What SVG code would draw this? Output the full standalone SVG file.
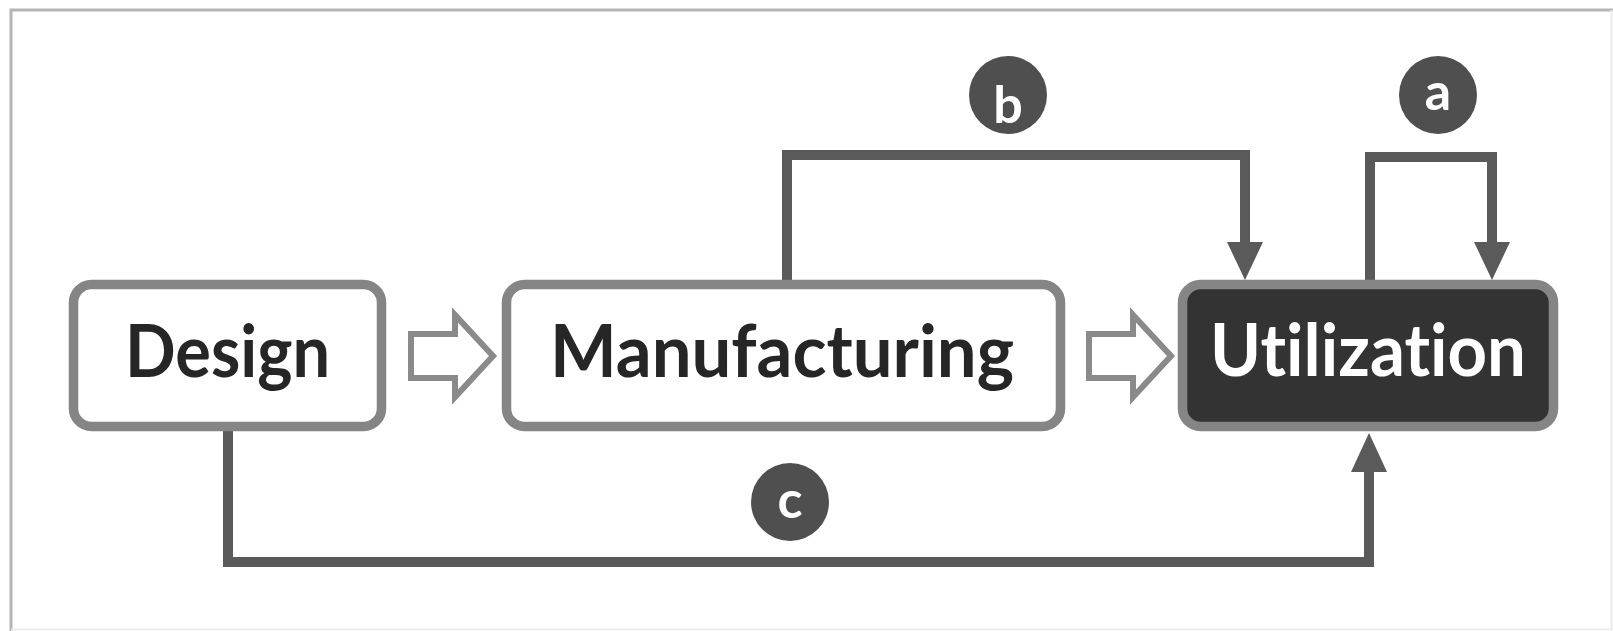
<svg xmlns="http://www.w3.org/2000/svg" width="1613" height="631" viewBox="0 0 1613 631">
<style>
.box{stroke:#858585;stroke-width:9.5;}
.lbl{font-family:Lato,"Open Sans","Liberation Sans",sans-serif;font-weight:700;font-size:72px;font-variant-ligatures:none;font-feature-settings:"liga" 0,"clig" 0;}
.conn{fill:none;stroke:#5a5a5a;stroke-width:10;}
.head{fill:#5a5a5a;}
.badge{fill:#4f4f4f;}
.btxt{font-family:Lato,"Open Sans","Liberation Sans",sans-serif;font-weight:700;font-size:52px;fill:#ffffff;text-anchor:middle;}
.flow{fill:#ffffff;stroke:#8a8a8a;stroke-width:6;stroke-linejoin:miter;}
</style>
<rect width="1613" height="631" fill="#ffffff"/>
<g id="frame">
<path d="M11,631 V10 H1613" fill="none" stroke="#b5b5b5" stroke-width="3"/>
<path d="M1611.5,10 V629.5 H11" fill="none" stroke="#ececec" stroke-width="2"/>
</g>
<g id="connectors">
<path class="conn" d="M787,280 V155 H1245 V244"/>
<polygon class="head" points="1227,242 1263,242 1245,280"/>
<path class="conn" d="M1370,280 V157 H1492 V244"/>
<polygon class="head" points="1474,242 1510,242 1492,280"/>
<path class="conn" d="M228,430 V562 H1369 V470"/>
<polygon class="head" points="1351,472 1387,472 1369,433"/>
<polygon class="flow" points="411,334 455,334 455,315 493,356 455,397 455,378 411,378"/>
<polygon class="flow" points="1089,334 1133,334 1133,315 1171,356 1133,397 1133,378 1089,378"/>
</g>
<g id="node-design">
<rect class="box" x="73.5" y="284.5" width="308" height="142" rx="18" fill="#ffffff"/>
<text class="lbl" x="125" y="377" fill="#262626" textLength="205" lengthAdjust="spacingAndGlyphs">Design</text>
</g>
<g id="node-manufacturing">
<rect class="box" x="506.5" y="284.5" width="554" height="142" rx="18" fill="#ffffff"/>
<text class="lbl" x="550" y="377" fill="#262626" textLength="464" lengthAdjust="spacingAndGlyphs">Manufacturing</text>
</g>
<g id="node-utilization">
<rect class="box" x="1182.5" y="284.5" width="371" height="142" rx="18" fill="#333333" stroke="#7f7f7f"/>
<text class="lbl" x="1210" y="376" fill="#ffffff" textLength="316" lengthAdjust="spacingAndGlyphs">Utilization</text>
</g>
<g id="badge-a">
<circle class="badge" cx="1438" cy="95" r="39"/>
<text class="btxt" x="1438" y="110">a</text>
</g>
<g id="badge-b">
<circle class="badge" cx="1008" cy="95" r="39"/>
<text class="btxt" x="1008" y="123">b</text>
</g>
<g id="badge-c">
<circle class="badge" cx="790" cy="502" r="39"/>
<text class="btxt" x="790" y="518">c</text>
</g>
</svg>
